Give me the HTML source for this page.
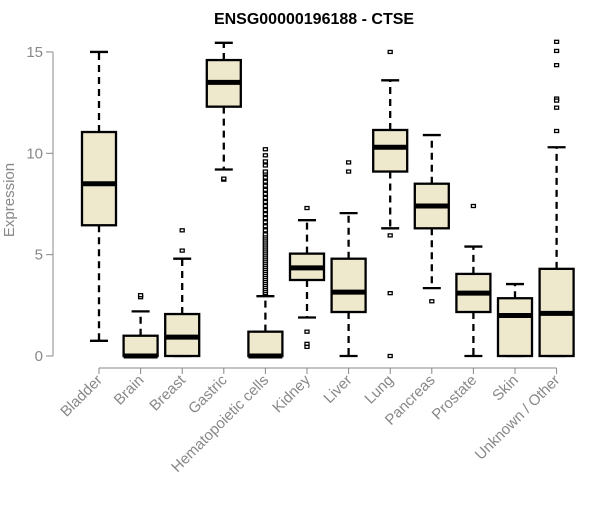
<!DOCTYPE html>
<html><head><meta charset="utf-8">
<style>
body{margin:0;background:#fff;}
svg text{font-family:"Liberation Sans",Arial,sans-serif;}
</style></head>
<body>
<svg id="chart" width="600" height="500" viewBox="0 0 600 500">
<text x="314" y="24" text-anchor="middle" font-size="16" font-weight="bold">ENSG00000196188 - CTSE</text>
<text transform="translate(14,200) rotate(-90)" text-anchor="middle" font-size="15" fill="#888">Expression</text>
<g id="yaxis"></g>
<g id="xaxis"></g>
<g id="plot"></g>
</svg>
<script>
const categories=["Bladder","Brain","Breast","Gastric","Hematopoietic cells","Kidney","Liver","Lung","Pancreas","Prostate","Skin","Unknown / Other"];
const lowerWhisker=[0.75,0,0,9.2,0,1.9,0,6.3,3.35,0,0,0];
const q1=[6.45,0,0,12.3,0,3.75,2.17,9.1,6.3,2.17,0,0];
const medians=[8.5,0,0.93,13.5,0,4.35,3.15,10.3,7.4,3.1,2.0,2.1];
const q3=[11.05,1.0,2.07,14.6,1.2,5.05,4.8,11.15,8.5,4.05,2.85,4.3];
const upperWhisker=[15,2.2,4.8,15.45,2.95,6.7,7.05,13.6,10.9,5.4,3.55,10.3];
const outliers=[[],[2.9,3.0],[5.2,6.2],[8.7,8.75],
[3.05,3.1,3.2,3.3,3.4,3.5,3.6,3.7,3.8,3.9,4.0,4.1,4.2,4.3,4.4,4.5,4.6,4.7,4.8,4.9,5.0,5.1,5.2,5.3,5.4,5.5,5.6,5.7,5.8,5.9,6.0,6.2,6.4,6.6,6.8,7.0,7.2,7.4,7.6,7.8,8.0,8.2,8.4,8.6,8.8,9.0,9.1,9.4,9.6,9.9,10.2],
[7.3,1.2,0.6,0.45],[9.1,9.55],[15,5.95,3.1,0],[2.7],[7.4],[],[15.5,15.05,14.35,12.7,12.6,12.25,11.1]];
const yTicks=[0,5,10,15];
const NS="http://www.w3.org/2000/svg";
const y0=356,pxPer=20.27,x0=99,step=41.6,hw=17,cap=9;
function ys(v){return y0-v*pxPer;}
function xs(i){return x0+i*step;}
function mk(tag,attrs,parent){const e=document.createElementNS(NS,tag);for(const k in attrs)e.setAttribute(k,attrs[k]);parent.appendChild(e);return e;}
const ya=document.getElementById('yaxis'),xa=document.getElementById('xaxis'),pl=document.getElementById('plot');
mk('line',{x1:53,x2:53,y1:ys(0),y2:ys(15),stroke:'#888','stroke-width':1},ya);
yTicks.forEach(t=>{
 const l=mk('line',{x1:46,x2:53,y1:ys(t),y2:ys(t),stroke:'#888'},ya);
 
 
 const tx=mk('text',{x:43,y:ys(t)+5,'text-anchor':'end','font-size':15,fill:'#888'},ya);
 tx.textContent=t;
 
 
});
mk('line',{x1:xs(0),x2:xs(categories.length-1),y1:368,y2:368,stroke:'#888'},xa);
categories.forEach((c,i)=>{
 const x=xs(i);
 mk('line',{x1:x,x2:x,y1:368,y2:374,stroke:'#888'},xa);
 const tx=mk('text',{transform:`translate(${x+4},${381}) rotate(-45)`,'text-anchor':'end','font-size':15,fill:'#888'},xa);
 tx.textContent=c;
 
 
 const g=mk('g',{},pl);
 
 
 const dash={stroke:'#000','stroke-width':2.3,'stroke-dasharray':'7,5'};
 if(upperWhisker[i]>q3[i]) mk('line',Object.assign({x1:x,x2:x,y1:ys(q3[i]),y2:ys(upperWhisker[i])},dash),g);
 if(lowerWhisker[i]<q1[i]) mk('line',Object.assign({x1:x,x2:x,y1:ys(q1[i]),y2:ys(lowerWhisker[i])},dash),g);
 mk('line',{x1:x-cap,x2:x+cap,y1:ys(upperWhisker[i]),y2:ys(upperWhisker[i]),stroke:'#000','stroke-width':2.3},g);
 mk('line',{x1:x-cap,x2:x+cap,y1:ys(lowerWhisker[i]),y2:ys(lowerWhisker[i]),stroke:'#000','stroke-width':2.3},g);
 mk('rect',{x:x-hw,y:ys(q3[i]),width:2*hw,height:Math.max(ys(q1[i])-ys(q3[i]),0.5),fill:'#EEE8CD',stroke:'#000','stroke-width':2.3},g);
 mk('line',{x1:x-hw,x2:x+hw,y1:ys(medians[i]),y2:ys(medians[i]),stroke:'#000','stroke-width':5},g);
 outliers[i].forEach(v=>{
  const r=mk('rect',{x:x-2,y:ys(v)-1.5,width:4,height:3,fill:'#fff',stroke:'#000','stroke-width':1.3},g);
  
  
 });
});
</script>
</body></html>
